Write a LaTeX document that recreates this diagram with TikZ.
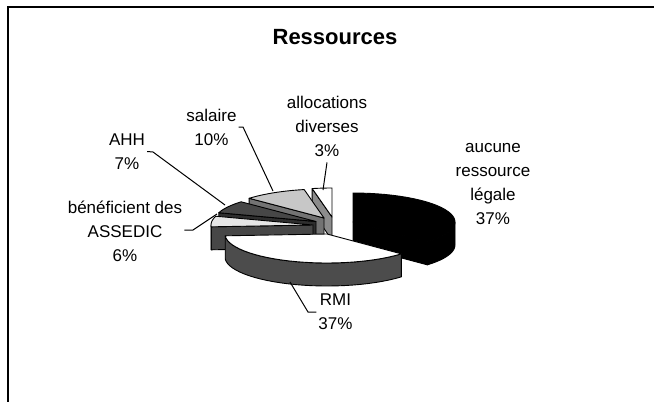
\documentclass[tikz,border=0pt]{standalone}
\usepackage{fontspec}
\setmainfont{Liberation Sans}
\tikzset{
    lbl/.style = {align=center, inner sep=2pt, font=\fontsize{17}{24}\selectfont},
    ttl/.style = {inner sep=0pt, font=\bfseries\fontsize{22}{26}\selectfont},
    slice/.style = {draw=black, line width=0.9pt, line join=round},
    leader/.style = {draw=black, line width=1pt},
    frame/.style = {draw=black, line width=1.6pt}
}

\begin{document}
\begin{tikzpicture}[x=1pt, y=-1pt]
\useasboundingbox (0,0) rectangle (654,402);
\draw[frame] (8,402) -- (8,7) -- (654,7);

\node[ttl] (title) at (335,37) {Ressources};

% allocations diverses
\filldraw[slice, fill=black!45] (332,217) -- ({332+102*cos(101.2)},{217-29*sin(101.2)})
    -- ({332+102*cos(101.2)},{240-29*sin(101.2)}) -- (332,240) -- cycle;
\filldraw[slice, fill=white] (332,217) -- plot[domain=90:101.2, samples=6] ({332+102*cos(\x)},{217-29*sin(\x)}) -- cycle;
% salaire
\filldraw[slice, fill=black!55] (324,218) -- ({324+102*cos(137.2)},{218-29*sin(137.2)})
    -- ({324+102*cos(137.2)},{241-29*sin(137.2)}) -- (324,241) -- cycle;
\filldraw[slice, fill=black!22] (324,218) -- plot[domain=101.2:137.2, samples=12] ({324+102*cos(\x)},{218-29*sin(\x)}) -- cycle;
% AHH
\filldraw[slice, fill=black!82] (316,221.5) -- ({316+102*cos(162.4)},{221.5-29*sin(162.4)})
    -- ({316+102*cos(162.4)},{244.5-29*sin(162.4)}) -- (316,244.5) -- cycle;
\filldraw[slice, fill=black!72] (316,221.5) -- plot[domain=137.2:162.4, samples=10] ({316+102*cos(\x)},{221.5-29*sin(\x)}) -- cycle;
% ASSEDIC
\filldraw[slice, fill=black!72] (313,225) -- ({313+102*cos(183.6)},{225-29*sin(183.6)})
    -- ({313+102*cos(183.6)},{248-29*sin(183.6)}) -- (313,248) -- cycle;
\filldraw[slice, fill=black!72] plot[domain=180:183.6, samples=3] ({313+102*cos(\x)},{225-29*sin(\x)})
    -- plot[domain=183.6:180, samples=3] ({313+102*cos(\x)},{248-29*sin(\x)}) -- cycle;
\filldraw[slice, fill=black!10] (313,225) -- plot[domain=162.4:183.6, samples=8] ({313+102*cos(\x)},{225-29*sin(\x)}) -- cycle;
% aucune ressource legale
\filldraw[slice, fill=black] (353,222) -- ({353+102*cos(-43.2)},{222-29*sin(-43.2)})
    -- ({353+102*cos(-43.2)},{245-29*sin(-43.2)}) -- (353,245) -- cycle;
\filldraw[slice, fill=black] plot[domain=-43.2:0, samples=12] ({353+102*cos(\x)},{222-29*sin(\x)})
    -- plot[domain=0:-43.2, samples=12] ({353+102*cos(\x)},{245-29*sin(\x)}) -- cycle;
\filldraw[slice, fill=black] (353,222) -- plot[domain=-43.2:90, samples=30] ({353+102*cos(\x)},{222-29*sin(\x)}) -- cycle;
% RMI
\filldraw[slice, fill=black!70] plot[domain=-176.4:-43.2, samples=30] ({327+102*cos(\x)},{234-29*sin(\x)})
    -- plot[domain=-43.2:-176.4, samples=30] ({327+102*cos(\x)},{257-29*sin(\x)}) -- cycle;
\filldraw[slice, fill=white] (327,234) -- plot[domain=-176.4:-43.2, samples=30] ({327+102*cos(\x)},{234-29*sin(\x)}) -- cycle;

% labels
\node[lbl] (alloc) at (327,126) {allocations\\diverses\\3\%};
\node[lbl] (sal) at (211.5,127) {salaire\\10\%};
\node[lbl] (ahh) at (127,151.5) {AHH\\7\%};
\node[lbl] (assedic) at (125,231) {bénéficient des\\ASSEDIC\\6\%};
\node[lbl] (rmi) at (335.5,312) {RMI\\37\%};
\node[lbl] (aucune) at (493,184) {aucune\\ressource\\légale\\37\%};

% leaders
\coordinate (palloc) at (323,190);
\coordinate (psal) at (273,191);
\coordinate (ksal) at (243,127);
\coordinate (pahh) at (225,205);
\coordinate (kahh) at (153,152);
\coordinate (passedic) at (217,214);
\coordinate (kassedic) at (193,230);
\coordinate (prmi) at (290,282);
\coordinate (krmi) at (308,312);
\draw[leader] ([yshift=-4pt]alloc.south) -- (palloc);
\draw[leader] (sal.east) -- (ksal) -- (psal);
\draw[leader] (ahh.east) -- (kahh) -- (pahh);
\draw[leader] (assedic.east |- kassedic) -- (kassedic) -- (passedic);
\draw[leader] (prmi) -- (krmi) -- (rmi.west);
\end{tikzpicture}
\end{document}
